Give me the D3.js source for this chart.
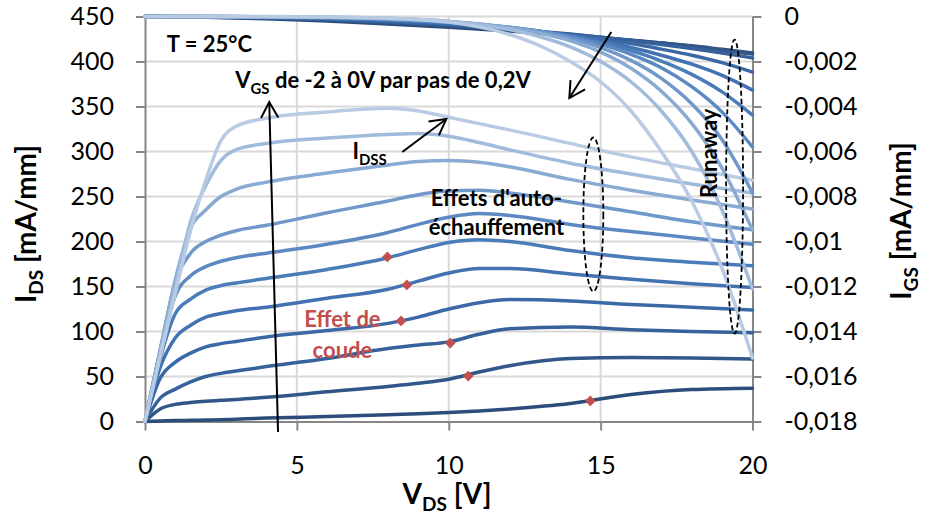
<!DOCTYPE html>
<html><head><meta charset="utf-8">
<script src="https://cdn.jsdelivr.net/npm/d3@7"></script>
<style>
body{margin:0;background:#fff;}
svg{display:block;font-family:Lato,"Open Sans",sans-serif;}
</style>
</head><body>
<svg id="chart" width="926" height="528"></svg>
<script>
// ---------- DATA ----------
const vgsLevels = ["-2", "-1.8", "-1.6", "-1.4", "-1.2", "-1", "-0.8", "-0.6", "-0.4", "-0.2", "0"];

// I_DS curves (left axis, mA/mm) sampled at these V_DS values
const idsVds = [0, 0.5, 1, 1.5, 2, 2.5, 3, 4, 6, 8, 9, 10, 11, 12, 14, 16, 18, 20];
const ids_m20 = [0, 0.5, 1, 1.3, 1.6, 2, 2.6, 3.8, 5.5, 7.5, 8.6, 10, 11.8, 14, 20, 30, 35.5, 37];
const ids_m18 = [0, 14, 19, 21, 22.5, 23.5, 24.5, 27, 33, 39, 42.5, 47, 55, 62, 70, 71, 70.5, 69.5];
const ids_m16 = [0, 26, 36, 44, 50, 53.5, 56, 61, 70, 81, 85, 88.5, 97, 103, 105, 102, 100, 98.5];
const ids_m14 = [0, 48, 66, 76, 83, 86.5, 89, 94, 101, 109, 116, 125, 132, 135.5, 134, 130, 127, 124];
const ids_m12 = [0, 60, 93, 107, 116, 120, 123, 127, 137, 147, 156, 165, 170, 170, 164, 158, 153, 149];
const ids_m10 = [0, 70, 120, 136, 146, 151, 154, 159, 169, 182, 191, 199, 202, 200, 190, 182, 177, 173];
const ids_m08 = [0, 78, 140, 162, 172, 178, 182, 187, 197, 210, 219, 227, 231, 229, 219, 211, 204, 197];
const ids_m06 = [0, 80, 155, 187, 200, 207, 212, 218, 232, 245, 252, 256, 257, 254, 244, 233, 222, 213];
const ids_m04 = [0, 78, 158, 215, 235, 250, 258, 266, 276, 285, 289, 290, 288, 283, 269, 257, 246, 236];
const ids_m02 = [0, 75, 150, 222, 262, 290, 302, 309, 315, 319, 320, 317, 310, 302, 287, 275, 264, 254];
const ids_p00 = [0, 72, 143, 212, 268, 312, 328, 337, 344, 348, 345, 338, 331, 324, 309, 294, 281, 268];

// I_GS curves (right axis, mA/mm) sampled at these V_DS values
const igsVds = [0, 2, 4, 6, 8, 10, 12, 13, 14, 15, 16, 17, 18, 19, 20];
const igs_m20 = [0, -0.00003, -0.0001, -0.0002, -0.00033, -0.00048, -0.00065, -0.00075, -0.00085, -0.00095, -0.00106, -0.00118, -0.0013, -0.00146, -0.00162];
const igs_m18 = [0, -0.00002, -0.00007, -0.00015, -0.00027, -0.00042, -0.0006, -0.0007, -0.0008, -0.00092, -0.00105, -0.00118, -0.00132, -0.0015, -0.00167];
const igs_m16 = [0, -0.00001, -0.00005, -0.00012, -0.00022, -0.00036, -0.00055, -0.00066, -0.00078, -0.00092, -0.00108, -0.00124, -0.00142, -0.00162, -0.00184];
const igs_m14 = [0, -0.00001, -0.00004, -0.0001, -0.0002, -0.00034, -0.00055, -0.00068, -0.00083, -0.001, -0.0012, -0.00145, -0.00172, -0.00205, -0.00247];
const igs_m12 = [0, -0.00001, -0.00003, -0.00008, -0.00017, -0.0003, -0.00052, -0.00067, -0.00085, -0.00108, -0.00138, -0.00172, -0.00212, -0.00262, -0.00327];
const igs_m10 = [0, 0, -0.00002, -0.00006, -0.00014, -0.00027, -0.0005, -0.00066, -0.00088, -0.00116, -0.00152, -0.00198, -0.00257, -0.00335, -0.00438];
const igs_m08 = [0, 0, -0.00002, -0.00005, -0.00012, -0.00025, -0.00048, -0.00066, -0.0009, -0.00124, -0.00168, -0.00228, -0.00312, -0.00425, -0.0058];
const igs_m06 = [0, 0, -0.00001, -0.00004, -0.0001, -0.00023, -0.00048, -0.00068, -0.00097, -0.00138, -0.00195, -0.00275, -0.00388, -0.00548, -0.00784];
const igs_m04 = [0, 0, -0.00001, -0.00003, -0.00009, -0.00022, -0.0005, -0.00074, -0.00108, -0.00158, -0.0023, -0.00332, -0.00475, -0.00675, -0.00949];
const igs_m02 = [0, 0, -0.00001, -0.00003, -0.00008, -0.00022, -0.00058, -0.0009, -0.00135, -0.002, -0.0029, -0.0042, -0.006, -0.0086, -0.01211];
const igs_p00 = [0, 0, 0, -0.00002, -0.00008, -0.00025, -0.0008, -0.0013, -0.002, -0.0029, -0.0042, -0.006, -0.0082, -0.0112, -0.01518];

// knee ("effet de coude") markers
const kneeVds = [7.98, 8.62, 8.43, 10.05, 10.64, 14.66];
const kneeIds = [182.8, 151.7, 111.7, 87.2, 50.5, 22.8];

// axes ticks
const xTicks = [0, 5, 10, 15, 20];
const xTickLabels = ["0", "5", "10", "15", "20"];
const leftTicks = [0, 50, 100, 150, 200, 250, 300, 350, 400, 450];
const leftTickLabels = ["0", "50", "100", "150", "200", "250", "300", "350", "400", "450"];
const rightTicks = [0, -0.002, -0.004, -0.006, -0.008, -0.01, -0.012, -0.014, -0.016, -0.018];
const rightTickLabels = ["0", "-0,002", "-0,004", "-0,006", "-0,008", "-0,01", "-0,012", "-0,014", "-0,016", "-0,018"];

// series colours (dark = V_GS -2 V  ...  light = V_GS 0 V)
const seriesColors = ["#2C4C7B", "#315789", "#36619A", "#3B69A8", "#4272B2", "#4B7CBA", "#5C89C2", "#7198CA", "#89AAD3", "#A1BBDC", "#B9CBE3"];

const idsSeries = [ids_m20, ids_m18, ids_m16, ids_m14, ids_m12, ids_m10, ids_m08, ids_m06, ids_m04, ids_m02, ids_p00];
const igsSeries = [igs_m20, igs_m18, igs_m16, igs_m14, igs_m12, igs_m10, igs_m08, igs_m06, igs_m04, igs_m02, igs_p00];

// ---------- CHART ----------
const svg = d3.select("#chart");
const X0 = 145, X1 = 752.5, Y0 = 421.5, Y1 = 16.5;
const x = d3.scaleLinear().domain([0, 20]).range([X0, X1]);
const yL = d3.scaleLinear().domain([0, 450]).range([Y0, Y1]);
const yR = d3.scaleLinear().domain([-0.018, 0]).range([Y0, Y1]);

const gridColor = "#D9D9D9", axisColor = "#868686";

// grid
const grid = svg.append("g");
grid.selectAll("line.h").data(leftTicks.filter(d => d > 0)).join("line")
  .attr("x1", X0).attr("x2", X1).attr("y1", d => yL(d)).attr("y2", d => yL(d))
  .attr("stroke", gridColor).attr("stroke-width", 2);
grid.selectAll("line.v").data(xTicks.filter(d => d > 0 && d < 20)).join("line")
  .attr("y1", Y0).attr("y2", Y1).attr("x1", d => x(d)).attr("x2", d => x(d))
  .attr("stroke", gridColor).attr("stroke-width", 2);

// axes
function styleAxis(g) {
  g.select(".domain").attr("stroke", axisColor).attr("stroke-width", 2);
  g.selectAll(".tick line").attr("stroke", axisColor).attr("stroke-width", 2);
  g.selectAll(".tick text").attr("fill", "#000").attr("font-size", 25)
    .attr("font-family", "Lato, 'Open Sans', sans-serif");
}
const axL = svg.append("g").attr("transform", `translate(${X0},0)`)
  .call(d3.axisLeft(yL).tickValues(leftTicks).tickFormat((d, i) => leftTickLabels[i]).tickSize(9).tickPadding(22).tickSizeOuter(0));
styleAxis(axL);
const axR = svg.append("g").attr("transform", `translate(${X1},0)`)
  .call(d3.axisRight(yR).tickValues(rightTicks).tickFormat((d, i) => rightTickLabels[i]).tickSize(9).tickPadding(23).tickSizeOuter(0));
styleAxis(axR);
const axB = svg.append("g").attr("transform", `translate(0,${Y0})`)
  .call(d3.axisBottom(x).tickValues(xTicks).tickFormat((d, i) => xTickLabels[i]).tickSize(9).tickPadding(26).tickSizeOuter(0));
styleAxis(axB);

// curves
const lineIds = d3.line().x(d => x(d[0])).y(d => yL(d[1])).curve(d3.curveMonotoneX);
const lineIgs = d3.line().x(d => x(d[0])).y(d => yR(d[1])).curve(d3.curveMonotoneX);
const curves = svg.append("g").attr("fill", "none").attr("stroke-width", 3.5).attr("stroke-linecap", "round");
idsSeries.forEach((s, i) => {
  curves.append("path").attr("d", lineIds(idsVds.map((v, j) => [v, s[j]]))).attr("stroke", seriesColors[i]);
});
igsSeries.forEach((s, i) => {
  curves.append("path").attr("d", lineIgs(igsVds.map((v, j) => [v, s[j]]))).attr("stroke", seriesColors[i]);
});

// knee markers
svg.append("g").selectAll("path").data(kneeVds.map((v, i) => [v, kneeIds[i]])).join("path")
  .attr("d", d3.symbol(d3.symbolSquare, 58)())
  .attr("transform", d => `translate(${x(d[0])},${yL(d[1])}) rotate(45)`)
  .attr("fill", "#C0504D");

// ---------- ANNOTATIONS ----------
function rich(g, parts, size, sub) {
  const t = g.append("text").attr("font-size", size).attr("font-weight", "bold");
  let shift = 0;
  parts.forEach(p => {
    const ts = t.append("tspan").text(p.t);
    if (p.sub) { ts.attr("font-size", size * 0.68).attr("dy", sub - shift); shift = sub; }
    else if (shift) { ts.attr("dy", -shift); shift = 0; }
  });
  return t;
}
function arrow(x1, y1, x2, y2) {
  const g = svg.append("g").attr("stroke", "#000").attr("stroke-width", 2).attr("fill", "none");
  g.append("line").attr("x1", x1).attr("y1", y1).attr("x2", x2).attr("y2", y2);
  const a = Math.atan2(y2 - y1, x2 - x1), L = 18, w = 0.5;
  g.append("polyline").attr("points", [
    [x2 - L * Math.cos(a - w), y2 - L * Math.sin(a - w)], [x2, y2],
    [x2 - L * Math.cos(a + w), y2 - L * Math.sin(a + w)]].map(p => p.join(",")).join(" "));
}

// T = 25°C
rich(svg, [{t: "T = 25°C"}], 22, 0).attr("x", x(0.72)).attr("y", yL(410.6));
// V_GS label
rich(svg, [{t: "V"}, {t: "GS", sub: true}, {t: " de -2 à 0V par pas de 0,2V"}], 22, 6)
  .attr("x", x(2.97)).attr("y", yL(370.6));
arrow(x(4.38), yL(-11.7), x(4.09), yL(355));
// I_DSS
rich(svg, [{t: "I"}, {t: "DSS", sub: true}], 22, 6).attr("x", x(6.83)).attr("y", yL(291.7));
arrow(x(8.47), yL(299.4), x(9.92), yL(336.1));
// top-right arrow (I_GS)
arrow(x(15.35), yL(432.8), x(13.97), yL(359.4));
// Effets d'auto-échauffement
rich(svg, [{t: "Effets d'auto-"}], 22, 0).attr("text-anchor", "middle").attr("x", x(11.57)).attr("y", yL(240));
rich(svg, [{t: "échauffement"}], 22, 0).attr("text-anchor", "middle").attr("x", x(11.57)).attr("y", yL(207));
// Effet de coude
rich(svg, [{t: "Effet de"}], 22, 0).attr("fill", "#C0504D").attr("text-anchor", "middle").attr("x", x(6.5)).attr("y", yL(105));
rich(svg, [{t: "coude"}], 22, 0).attr("fill", "#C0504D").attr("text-anchor", "middle").attr("x", x(6.5)).attr("y", yL(70.5));
// Runaway
rich(svg, [{t: "Runaway"}], 22, 0).attr("text-anchor", "middle")
  .attr("transform", `translate(${x(18.82)},${yL(298)}) rotate(-90)`);
// dashed ellipses
svg.append("ellipse").attr("cx", x(14.76)).attr("cy", yL(230)).attr("rx", 10).attr("ry", 77)
  .attr("fill", "none").attr("stroke", "#000").attr("stroke-width", 1.8).attr("stroke-dasharray", "5,3");
svg.append("ellipse").attr("cx", x(19.41)).attr("cy", yL(261)).attr("rx", 8.5).attr("ry", 147)
  .attr("fill", "none").attr("stroke", "#000").attr("stroke-width", 1.8).attr("stroke-dasharray", "5,3");

// axis titles
rich(svg, [{t: "I"}, {t: "DS", sub: true}, {t: " [mA/mm]"}], 28, 7).attr("text-anchor", "middle")
  .attr("transform", `translate(36,224) rotate(-90)`);
rich(svg, [{t: "I"}, {t: "GS", sub: true}, {t: " [mA/mm]"}], 28, 7).attr("text-anchor", "middle")
  .attr("transform", `translate(911,221) rotate(-90)`);
rich(svg, [{t: "V"}, {t: "DS", sub: true}, {t: " [V]"}], 28, 7).attr("text-anchor", "middle")
  .attr("x", 447).attr("y", 504);
</script>
</body></html>
